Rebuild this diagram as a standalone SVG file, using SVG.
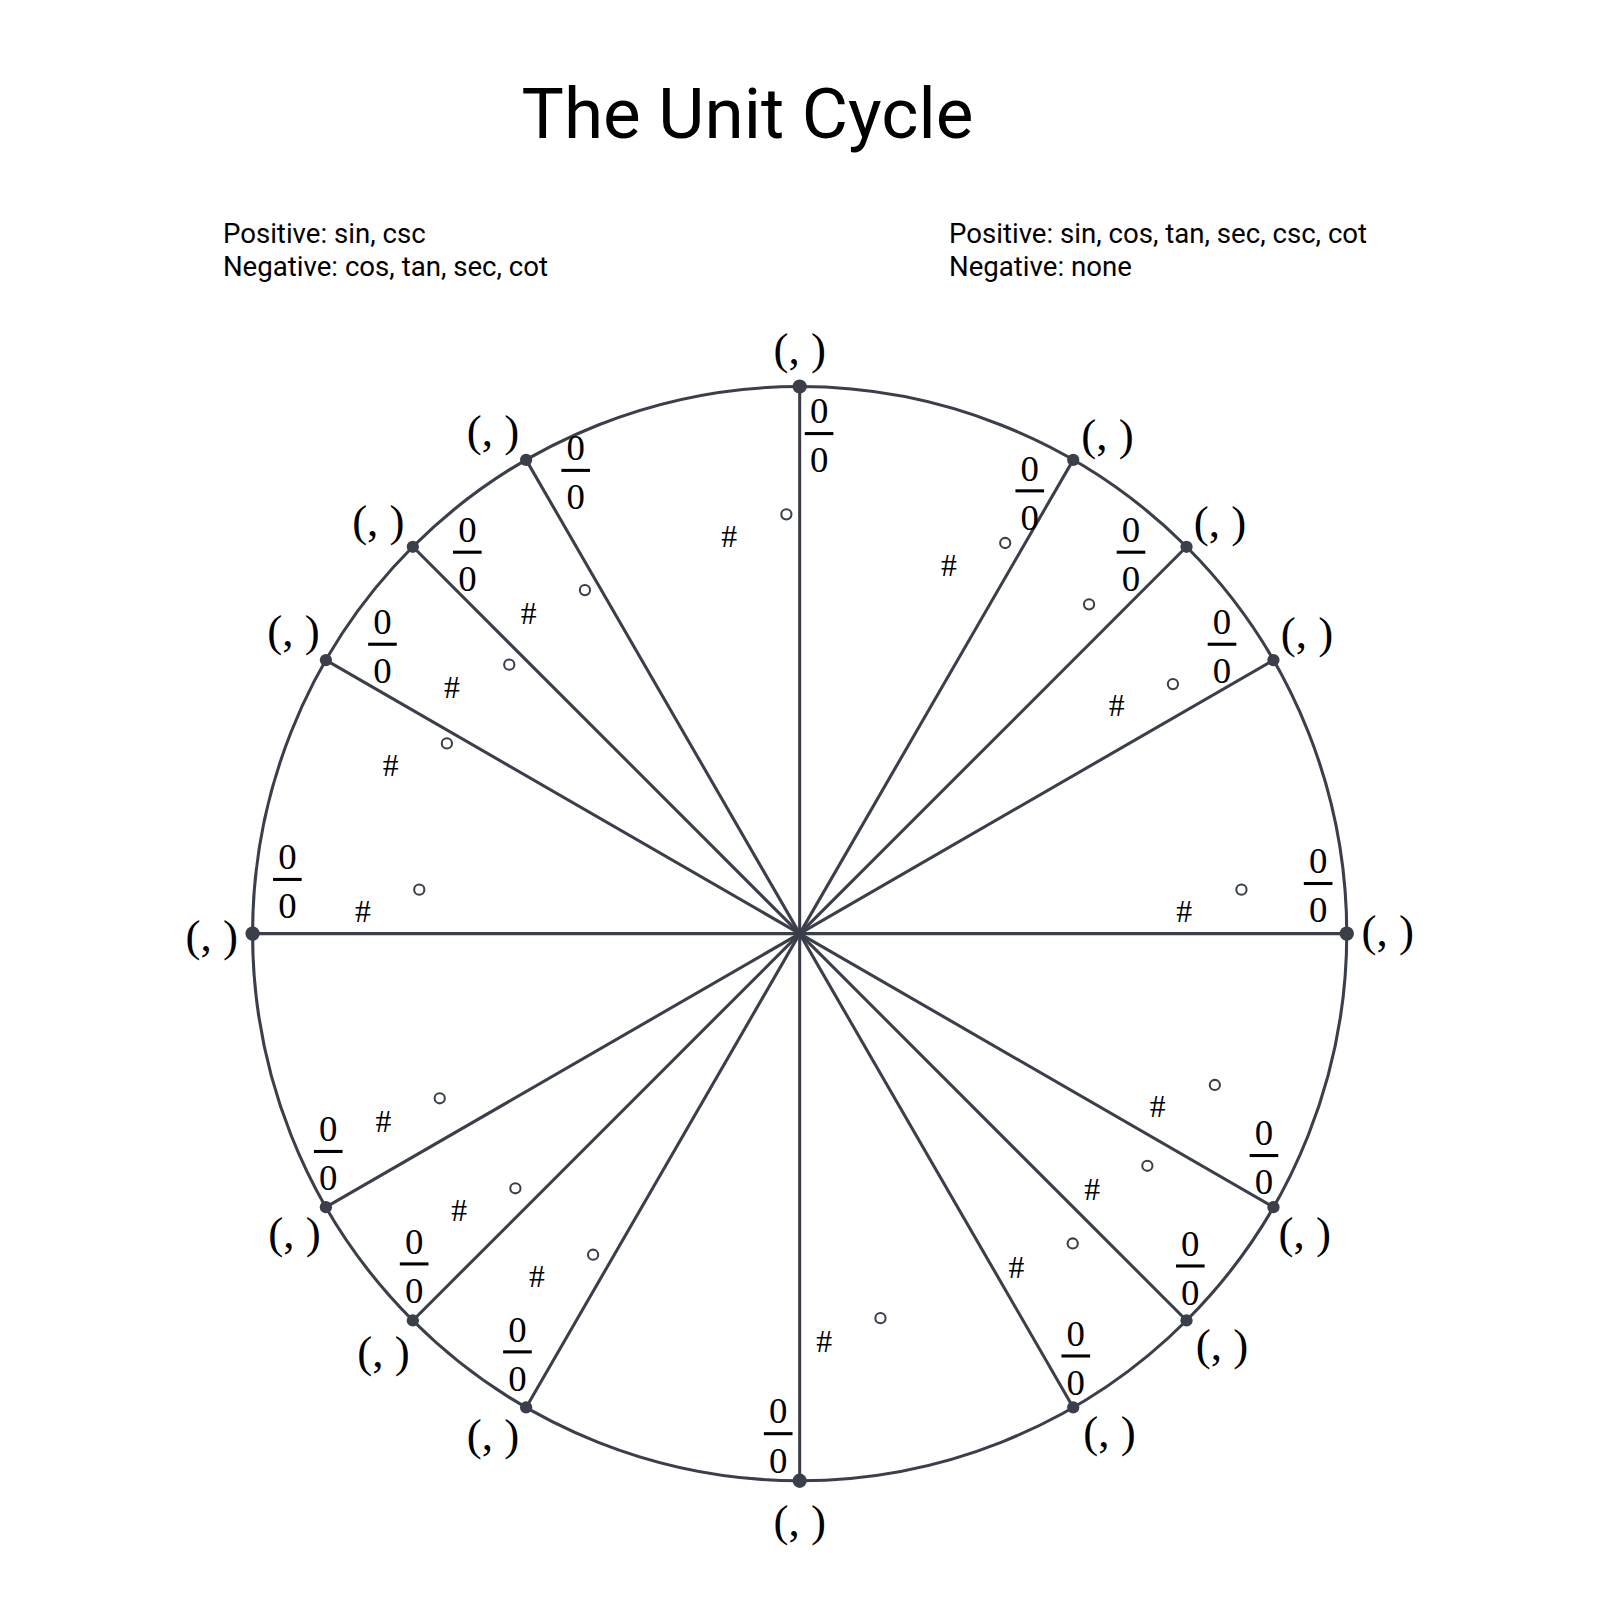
<svg xmlns="http://www.w3.org/2000/svg" width="1600" height="1600" viewBox="0 0 1600 1600">
<style>
.l{stroke:#3a3f4a;stroke-width:3;fill:none}
.d{fill:#3a3f4a}
.c{font-family:"Liberation Serif",serif;font-size:44px;text-anchor:middle;fill:#000}
.f{font-family:"Liberation Serif",serif;font-size:36px;text-anchor:middle;fill:#000}
.h{font-family:"Liberation Serif",serif;font-size:31px;text-anchor:middle;fill:#000}
.o{fill:none;stroke:#3a3f4a;stroke-width:2}
.t{font-family:Roboto,sans-serif;fill:#000}
</style>
<defs>
<g id="fr"><text class="f" y="-10">0</text><rect x="-14" y="-1.5" width="28" height="3" fill="#000"/><text class="f" y="38">0</text></g>
</defs>
<rect width="1600" height="1600" fill="#fff"/>
<g transform="scale(1.0226)">
<text class="t" x="510" y="135" font-size="69.5">The Unit Cycle</text>
<text class="t" x="218" y="238" font-size="27">Positive: sin, csc</text>
<text class="t" x="218" y="270" font-size="27">Negative: cos, tan, sec, cot</text>
<text class="t" x="928" y="238" font-size="27">Positive: sin, cos, tan, sec, csc, cot</text>
<text class="t" x="928" y="270" font-size="27">Negative: none</text>
<g id="connectors">
<circle class="l" cx="782" cy="913" r="535"/>
<line class="l" x1="247" y1="913" x2="1317" y2="913"/>
<line class="l" x1="782" y1="378" x2="782" y2="1448"/>
<line class="l" x1="782" y1="913" x2="1049.5" y2="449.7"/>
<line class="l" x1="782" y1="913" x2="1160.3" y2="534.7"/>
<line class="l" x1="782" y1="913" x2="1245.3" y2="645.5"/>
<line class="l" x1="782" y1="913" x2="1245.3" y2="1180.5"/>
<line class="l" x1="782" y1="913" x2="1160.3" y2="1291.3"/>
<line class="l" x1="782" y1="913" x2="1049.5" y2="1376.3"/>
<line class="l" x1="782" y1="913" x2="514.5" y2="1376.3"/>
<line class="l" x1="782" y1="913" x2="403.7" y2="1291.3"/>
<line class="l" x1="782" y1="913" x2="318.7" y2="1180.5"/>
<line class="l" x1="782" y1="913" x2="318.7" y2="645.5"/>
<line class="l" x1="782" y1="913" x2="403.7" y2="534.7"/>
<line class="l" x1="782" y1="913" x2="514.5" y2="449.7"/>
</g>
<g id="points" class="d">
<circle cx="782" cy="378" r="7"/><circle cx="782" cy="1448" r="7"/><circle cx="247" cy="913" r="7"/><circle cx="1317" cy="913" r="7"/>
<circle cx="1049.5" cy="449.7" r="6"/><circle cx="1160.3" cy="534.7" r="6"/><circle cx="1245.3" cy="645.5" r="6"/><circle cx="1245.3" cy="1180.5" r="6"/><circle cx="1160.3" cy="1291.3" r="6"/><circle cx="1049.5" cy="1376.3" r="6"/><circle cx="514.5" cy="1376.3" r="6"/><circle cx="403.7" cy="1291.3" r="6"/><circle cx="318.7" cy="1180.5" r="6"/><circle cx="318.7" cy="645.5" r="6"/><circle cx="403.7" cy="534.7" r="6"/><circle cx="514.5" cy="449.7" r="6"/>
</g>
<g id="coords">
<text class="c" x="782" y="356">(, )</text><text class="c" x="1083" y="440">(, )</text><text class="c" x="1193" y="525">(, )</text><text class="c" x="1278" y="634">(, )</text><text class="c" x="1357" y="925">(, )</text><text class="c" x="1276" y="1220">(, )</text><text class="c" x="1195" y="1330">(, )</text><text class="c" x="1085" y="1415">(, )</text><text class="c" x="782" y="1502">(, )</text><text class="c" x="482" y="1418">(, )</text><text class="c" x="375" y="1337">(, )</text><text class="c" x="288" y="1220">(, )</text><text class="c" x="207" y="930">(, )</text><text class="c" x="287" y="632">(, )</text><text class="c" x="370" y="524">(, )</text><text class="c" x="482" y="436">(, )</text>
</g>
<g id="fractions">
<use href="#fr" x="801" y="424"/><use href="#fr" x="1007" y="480"/><use href="#fr" x="1106" y="540"/><use href="#fr" x="1195" y="630"/><use href="#fr" x="1289" y="864"/><use href="#fr" x="1236" y="1130"/><use href="#fr" x="1164" y="1238"/><use href="#fr" x="1052" y="1326"/><use href="#fr" x="761" y="1402"/><use href="#fr" x="506" y="1322"/><use href="#fr" x="405" y="1236"/><use href="#fr" x="321" y="1126"/><use href="#fr" x="281" y="860"/><use href="#fr" x="374" y="630"/><use href="#fr" x="457" y="540"/><use href="#fr" x="563" y="460"/>
</g>
<g id="hashes">
<text class="h" x="713" y="535">#</text><text class="h" x="928" y="563">#</text><text class="h" x="1092" y="700">#</text><text class="h" x="1158" y="902">#</text><text class="h" x="1132" y="1092">#</text><text class="h" x="1068" y="1173">#</text><text class="h" x="994" y="1250">#</text><text class="h" x="806" y="1322">#</text><text class="h" x="525" y="1259">#</text><text class="h" x="449" y="1194">#</text><text class="h" x="375" y="1107">#</text><text class="h" x="355" y="902">#</text><text class="h" x="382" y="759">#</text><text class="h" x="442" y="683">#</text><text class="h" x="517" y="610">#</text>
</g>
<g id="degrees" class="o">
<circle cx="769" cy="503" r="5"/><circle cx="983" cy="531" r="5"/><circle cx="1065" cy="591" r="5"/><circle cx="1147" cy="669" r="5"/><circle cx="1214" cy="870" r="5"/><circle cx="1188" cy="1061" r="5"/><circle cx="1122" cy="1140" r="5"/><circle cx="1049" cy="1216" r="5"/><circle cx="861" cy="1289" r="5"/><circle cx="580" cy="1227" r="5"/><circle cx="504" cy="1162" r="5"/><circle cx="430" cy="1074" r="5"/><circle cx="410" cy="870" r="5"/><circle cx="437" cy="727" r="5"/><circle cx="498" cy="650" r="5"/><circle cx="572" cy="577" r="5"/>
</g>
</g>
</svg>
